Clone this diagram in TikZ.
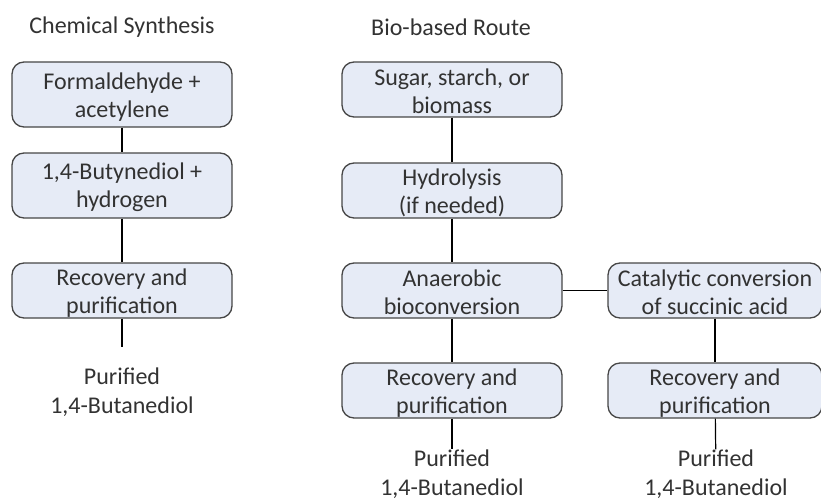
\documentclass[tikz,border=0pt]{standalone}
\usepackage{fontspec}
\setmainfont{Carlito}
\definecolor{boxfill}{RGB}{230,235,246}
\definecolor{boxline}{RGB}{70,70,70}
\definecolor{txtgray}{RGB}{50,50,50}
\begin{document}
\begin{tikzpicture}[x=1pt,y=-1pt,
  box/.style={draw=boxline,line width=1.3pt,fill=boxfill,rounded corners=12pt,
    minimum width=220pt,minimum height=55pt,inner sep=0pt,align=center,
    text=txtgray,font=\fontsize{24}{28}\selectfont,
    execute at begin node={\rule{0pt}{49pt}}},
  label/.style={text=txtgray,align=center,inner sep=0pt,font=\fontsize{24}{29}\selectfont},
  link/.style={black,line width=1.2pt}]
\useasboundingbox (0,0) rectangle (821,500);

% Chemical Synthesis
\node[label] (t1) at (122,27) {Chemical Synthesis};
\node[box,minimum height=65pt] (c1) at (122,94.5)  {Formaldehyde +\\acetylene};
\node[box,minimum height=65pt] (c2) at (122,185.5) {1,4-Butynediol +\\hydrogen};
\node[box] (c3) at (122,290.5) {Recovery and\\purification};
\coordinate (c4) at (122,347);
\node[label] (c5) at (122,392) {Purified\\1,4-Butanediol};

% Bio-based Route
\node[label] (t2) at (451,27) {Bio-based Route};
\node[box] (b1) at (452,89.5)  {Sugar, starch, or\\biomass};
\node[box] (b2) at (452,190.5) {Hydrolysis\\(if needed)};
\node[box] (b3) at (452,290.5) {Anaerobic\\bioconversion};
\node[box] (b4) at (452,390.5) {Recovery and\\purification};
\node[label] (b5) at (452,474) {Purified\\1,4-Butanediol};

\node[box,minimum width=214pt] (s1) at (715,290.5) {Catalytic conversion\\of succinic acid};
\node[box,minimum width=214pt] (s2) at (715,390.5) {Recovery and\\purification};
\node[label] (s3) at (716,474) {Purified\\1,4-Butanediol};

\draw[link] (c1) -- (c2);
\draw[link] (c2) -- (c3);
\draw[link] (c3) -- (c4);
\draw[link] (b1) -- (b2);
\draw[link] (b2) -- (b3);
\draw[link] (b3) -- (b4);
\draw[link] (b4) -- (b5);
\draw[link] (b3) -- (s1);
\draw[link] (s1) -- (s2);
\draw[link] (s2) -- (s3);

\end{tikzpicture}
\end{document}
